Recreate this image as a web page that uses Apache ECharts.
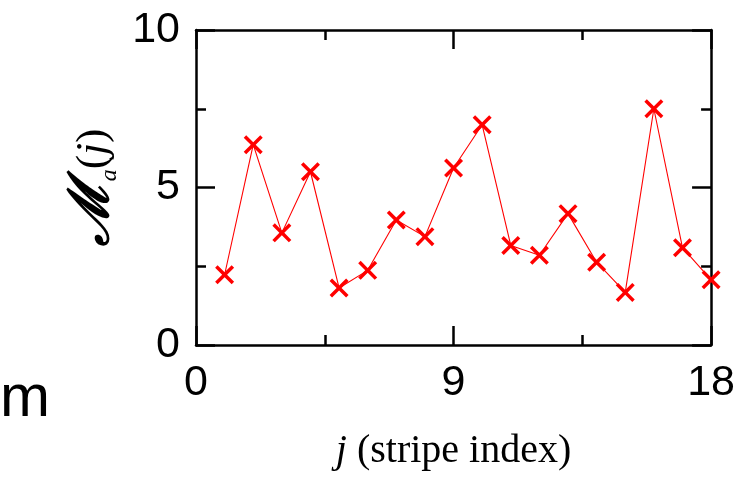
<!DOCTYPE html>
<html>
<head>
<meta charset="utf-8">
<script src="https://cdn.jsdelivr.net/npm/echarts@6/dist/echarts.min.js"></script>
<style>
	html, body { margin: 0; padding: 0; background: #fff; }
	#main { width: 738px; height: 477px; }
</style>
</head>
<body>
<div id="main"></div>
<script>
// stripe index j and the value M_a(j)
var stripeIndex = [1, 2, 3, 4, 5, 6, 7, 8, 9, 10, 11, 12, 13, 14, 15, 16, 17, 18];
var mValues = [2.23, 6.36, 3.56, 5.5, 1.81, 2.37, 3.97, 3.44, 5.62, 6.99, 3.16, 2.85, 4.17, 2.63, 1.67, 7.5, 3.09, 2.07];

var xRange = [0, 18];
var xStep = 9;
var yRange = [0, 10];
var yStep = 5;

var points = stripeIndex.map(function (j, i) { return [j, mValues[i]]; });

// X marker drawn as a filled polygon
var crossPath = 'path://M0,1.3L1.3,0L5,3.7L8.7,0L10,1.3L6.3,5L10,8.7L8.7,10L5,6.3L1.3,10L0,8.7L3.7,5Z';

var lineBlack = { color: '#000', width: 2.5 };

function frameAxis(pos, range, step, showLabels) {
	return {
		type: 'value',
		position: pos,
		min: range[0],
		max: range[1],
		interval: step,
		axisLine: { show: true, onZero: false, lineStyle: lineBlack },
		axisTick: { show: true, inside: true, length: 19, lineStyle: lineBlack },
		minorTick: { show: true, splitNumber: 2, length: 10, lineStyle: lineBlack },
		splitLine: { show: false },
		minorSplitLine: { show: false },
		axisLabel: {
			show: showLabels,
			color: '#000',
			fontSize: 43,
			fontFamily: 'Liberation Sans',
			margin: 17
		}
	};
}

var xBottom = frameAxis('bottom', xRange, xStep, true);
xBottom.name = '{j|j}{t| (stripe index)}';
xBottom.nameLocation = 'middle';
xBottom.nameGap = 86;
xBottom.nameTextStyle = {
	rich: {
		j: { fontFamily: 'Liberation Serif', fontStyle: 'italic', fontSize: 40, color: '#000' },
		t: { fontFamily: 'Liberation Serif', fontSize: 40, color: '#000' }
	}
};
var xTop = frameAxis('top', xRange, xStep, false);

var yLeft = frameAxis('left', yRange, yStep, true);
yLeft.axisLabel.margin = 16;
yLeft.name = '{m|\u2133}{a|a}{p|(}{j|j}{p|)}';
yLeft.nameLocation = 'middle';
yLeft.nameRotate = 90;
yLeft.nameGap = 64;
yLeft.nameTextStyle = {
	rich: {
		m: { fontFamily: 'DejaVu Serif', fontStyle: 'italic', fontWeight: 'bold', fontSize: 56, lineHeight: 56, verticalAlign: 'middle', color: '#000' },
		a: { fontFamily: 'Liberation Serif', fontStyle: 'italic', fontSize: 24, lineHeight: 56, verticalAlign: 'bottom', color: '#000' },
		p: { fontFamily: 'Liberation Serif', fontSize: 43, lineHeight: 56, verticalAlign: 'middle', color: '#000' },
		j: { fontFamily: 'Liberation Serif', fontStyle: 'italic', fontSize: 43, lineHeight: 56, verticalAlign: 'middle', color: '#000' }
	}
};
var yRight = frameAxis('right', yRange, yStep, false);

var chart = echarts.init(document.getElementById('main'));
chart.setOption({
	animation: false,
	backgroundColor: '#fff',
	grid: { left: 196, right: 26, top: 30, bottom: 132, containLabel: false },
	xAxis: [xBottom, xTop],
	yAxis: [yLeft, yRight],
	graphic: [
		{
			type: 'text',
			left: 0,
			top: 369,
			style: { text: 'm', font: '60px "Liberation Sans"', fill: '#000' }
		}
	],
	series: [
		{
			type: 'line',
			xAxisIndex: 0,
			yAxisIndex: 0,
			data: points,
			clip: false,
			symbol: crossPath,
			symbolSize: 19,
			showAllSymbol: true,
			lineStyle: { color: '#ff0000', width: 1.1 },
			itemStyle: { color: '#ff0000' },
			z: 5
		}
	]
});
</script>
</body>
</html>
